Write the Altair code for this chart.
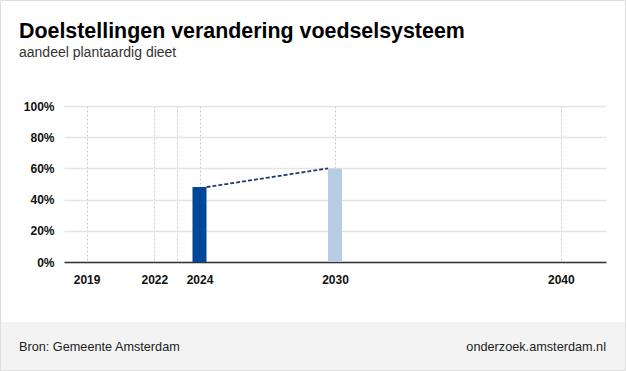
import altair as alt
import pandas as pd

# data
years = [2024, 2030]
values = [0.48, 0.60]
kind = ["Gerealiseerd", "Doel"]
tick_years = [2019, 2022, 2023, 2024, 2030, 2040]
y_ticks = [0, 0.2, 0.4, 0.6, 0.8, 1.0]

title = "Doelstellingen verandering voedselsysteem"
subtitle = "aandeel plantaardig dieet"
source = "Bron: Gemeente Amsterdam"
site = "onderzoek.amsterdam.nl"

FONT = "Liberation Sans"
W, H = 542, 156
PL, PT = 64, 106
TOTAL_W, TOTAL_H = 626, 371

df = pd.DataFrame({"jaar": years, "waarde": values, "soort": kind})
seg = pd.DataFrame({"x": [years[0]], "x2": [years[1]], "y": [values[0]], "y2": [values[1]]})

xscale = alt.Scale(domain=[2018, 2042], nice=False, zero=False, padding=0)
yscale = alt.Scale(domain=[0, 1], nice=False, padding=0)

xaxis = alt.Axis(values=tick_years, format="d", title=None, ticks=False,
                 labelExpr="datum.value == 2023 ? '' : datum.label",
                 grid=True, gridDash=[2, 2], gridColor="#c8c8c8", gridWidth=1,
                 domain=True, domainColor="#333333", domainWidth=1.5,
                 labelFont=FONT, labelFontSize=12, labelFontWeight="bold",
                 labelColor="#111111", labelPadding=12, labelOverlap=False)
yaxis = alt.Axis(values=y_ticks, format=".0%", title=None,
                 ticks=False, domain=False, grid=True, gridColor="#e4e4e4", gridWidth=1.5,
                 labelFont=FONT, labelFontSize=12, labelFontWeight="bold",
                 labelColor="#111111", labelPadding=10, labelOverlap=False)

base = alt.Chart(df)

bars = base.mark_bar(size=14).encode(
    x=alt.X("jaar:Q", scale=xscale, axis=xaxis),
    y=alt.Y("waarde:Q", scale=yscale, axis=yaxis),
    color=alt.Color("soort:N", scale=alt.Scale(domain=["Gerealiseerd", "Doel"],
                                               range=["#004699", "#b8cde3"]), legend=None),
)

line = alt.Chart(seg).mark_rule(strokeDash=[4, 2], strokeWidth=1.8, color="#1f3b6e",
                                xOffset=7, x2Offset=-7).encode(
    x=alt.X("x:Q", scale=xscale, axis=xaxis), x2="x2:Q",
    y=alt.Y("y:Q", scale=yscale, axis=yaxis), y2="y2:Q",
)

one = pd.DataFrame({"a": [0]})

footer_bg = alt.Chart(one).mark_rect(color="#f3f3f3").encode(
    x=alt.value(-PL), x2=alt.value(TOTAL_W - PL),
    y=alt.value(322 - PT), y2=alt.value(TOTAL_H - PT),
)
border = alt.Chart(one).mark_rect(fill=None, stroke="#dedede", strokeWidth=1).encode(
    x=alt.value(-PL + 0.5), x2=alt.value(TOTAL_W - PL - 0.5),
    y=alt.value(-PT + 0.5), y2=alt.value(TOTAL_H - PT - 0.5),
)

def txt(s, x, y, size, weight="normal", align="left", color="#000000", baseline="alphabetic"):
    return alt.Chart(pd.DataFrame({"t": [s]})).mark_text(
        font=FONT, fontSize=size, fontWeight=weight, align=align, baseline=baseline, color=color
    ).encode(text="t:N", x=alt.value(x), y=alt.value(y))

t_title = txt(title, 19 - PL, 38 - PT, 21.4, weight="bold")
t_sub = txt(subtitle, 19 - PL, 57 - PT, 14, color="#333333")
t_src = txt(source, 19 - PL, 347 - PT, 12.7, color="#222222", baseline="middle")
t_site = txt(site, 606 - PL, 347 - PT, 12.7, color="#222222", align="right", baseline="middle")

chart = alt.layer(footer_bg, border, bars, line, t_title, t_sub, t_src, t_site).properties(
    width=W, height=H,
    autosize=alt.AutoSizeParams(type="none"),
    padding={"left": PL, "top": PT, "right": TOTAL_W - PL - W, "bottom": TOTAL_H - PT - H},
    background="#ffffff",
).configure_view(stroke=None)

chart.save("out.html", embed_options={"renderer": "svg", "actions": False})
